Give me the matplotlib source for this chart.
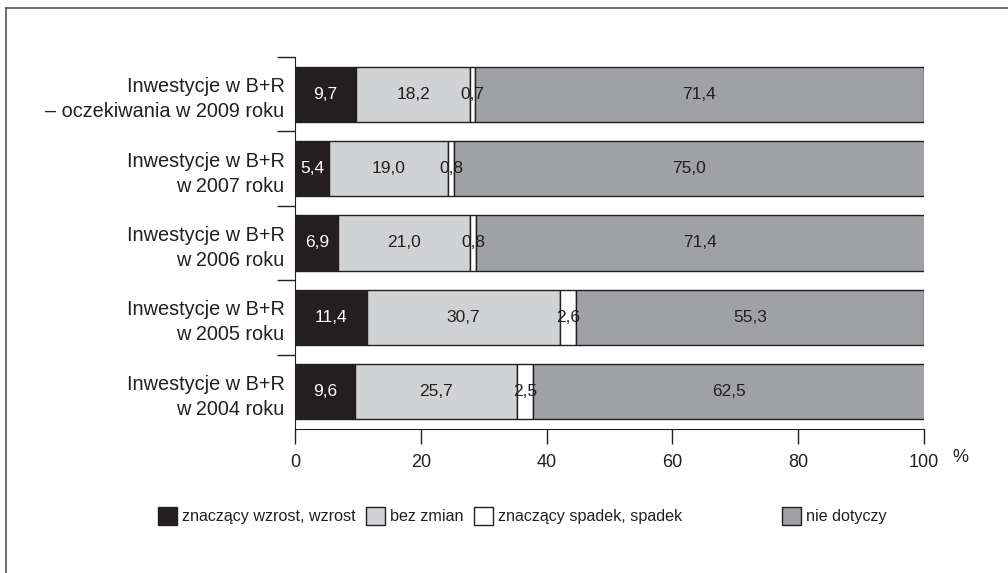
import matplotlib
matplotlib.use("Agg")
import matplotlib.pyplot as plt
from matplotlib.patches import Patch
from matplotlib.lines import Line2D

categories = [
    "Inwestycje w B+R\n– oczekiwania w 2009 roku",
    "Inwestycje w B+R\nw 2007 roku",
    "Inwestycje w B+R\nw 2006 roku",
    "Inwestycje w B+R\nw 2005 roku",
    "Inwestycje w B+R\nw 2004 roku",
]
series_names = ["znaczący wzrost, wzrost", "bez zmian", "znaczący spadek, spadek", "nie dotyczy"]
wzrost = [9.7, 5.4, 6.9, 11.4, 9.6]
bez_zmian = [18.2, 19.0, 21.0, 30.7, 25.7]
spadek = [0.7, 0.8, 0.8, 2.6, 2.5]
nie_dotyczy = [71.4, 75.0, 71.4, 55.3, 62.5]
x_ticks = [0, 20, 40, 60, 80, 100]

colors = ["#231f20", "#d1d2d4", "#ffffff", "#a0a1a4"]
text_colors = ["white", "#231f20", "#231f20", "#231f20"]

plt.rcParams['font.family'] = ['Liberation Sans', 'DejaVu Sans']
plt.rcParams['text.color'] = "#231f20"

fig = plt.figure(figsize=(10.08, 5.73), dpi=100)
ax = fig.add_axes([295/1008, 1-429/573, (924-295)/1008, (429-57)/573])

ypos = list(range(len(categories)))
series = [wzrost, bez_zmian, spadek, nie_dotyczy]
left = [0.0]*len(categories)
for vals, col, tc in zip(series, colors, text_colors):
    ax.barh(ypos, vals, left=left, height=0.74, color=col, edgecolor="#231f20", linewidth=1.0)
    for i, v in enumerate(vals):
        ax.text(left[i] + v/2, ypos[i], f"{v:.1f}".replace(".", ","), ha="center", va="center",
                fontsize=12.5, color=tc)
    left = [l + v for l, v in zip(left, vals)]

ax.set_ylim(len(categories)-0.5, -0.5)
ax.set_xlim(0, 100)
ax.set_xticks(x_ticks)
ax.set_xticklabels([str(t) for t in x_ticks], fontsize=13, color="#231f20")
ax.tick_params(axis='x', direction='out', length=11, width=1, color="#231f20", pad=7)
ax.set_yticks([i - 0.5 for i in ypos])
ax.set_yticklabels([])
ax.tick_params(axis='y', direction='out', length=13, width=1, color="#231f20")
ax.set_yticks(ypos, minor=True)
ax.set_yticklabels(categories, minor=True, fontsize=14.3, linespacing=1.4, color="#231f20")
ax.tick_params(axis='y', which='minor', length=0, pad=7.5)
for s in ["top", "right"]:
    ax.spines[s].set_visible(False)
ax.spines["left"].set_color("#231f20")
ax.spines["bottom"].set_color("#231f20")
ax.text(960/1008, 1-457/573, "%", transform=fig.transFigure, fontsize=13, ha="center", va="center")

legend_x = [158, 366, 474, 782]
for name, col, lx in zip(series_names, colors, legend_x):
    h = Patch(facecolor=col, edgecolor="#231f20", linewidth=1.0)
    fig.legend([h], [name], loc="center left", bbox_to_anchor=(lx/1008, 1-516/573),
               frameon=False, fontsize=11.6, handlelength=1.15, handleheight=1.3,
               handletextpad=0.35, borderpad=0, borderaxespad=0)

fig.add_artist(Line2D([6/1008, 6/1008], [0, 1-8/573], transform=fig.transFigure, color="#555555", lw=1.2))
fig.add_artist(Line2D([6/1008, 1], [1-8/573, 1-8/573], transform=fig.transFigure, color="#555555", lw=1.2))

fig.savefig("out.png", dpi=100)
